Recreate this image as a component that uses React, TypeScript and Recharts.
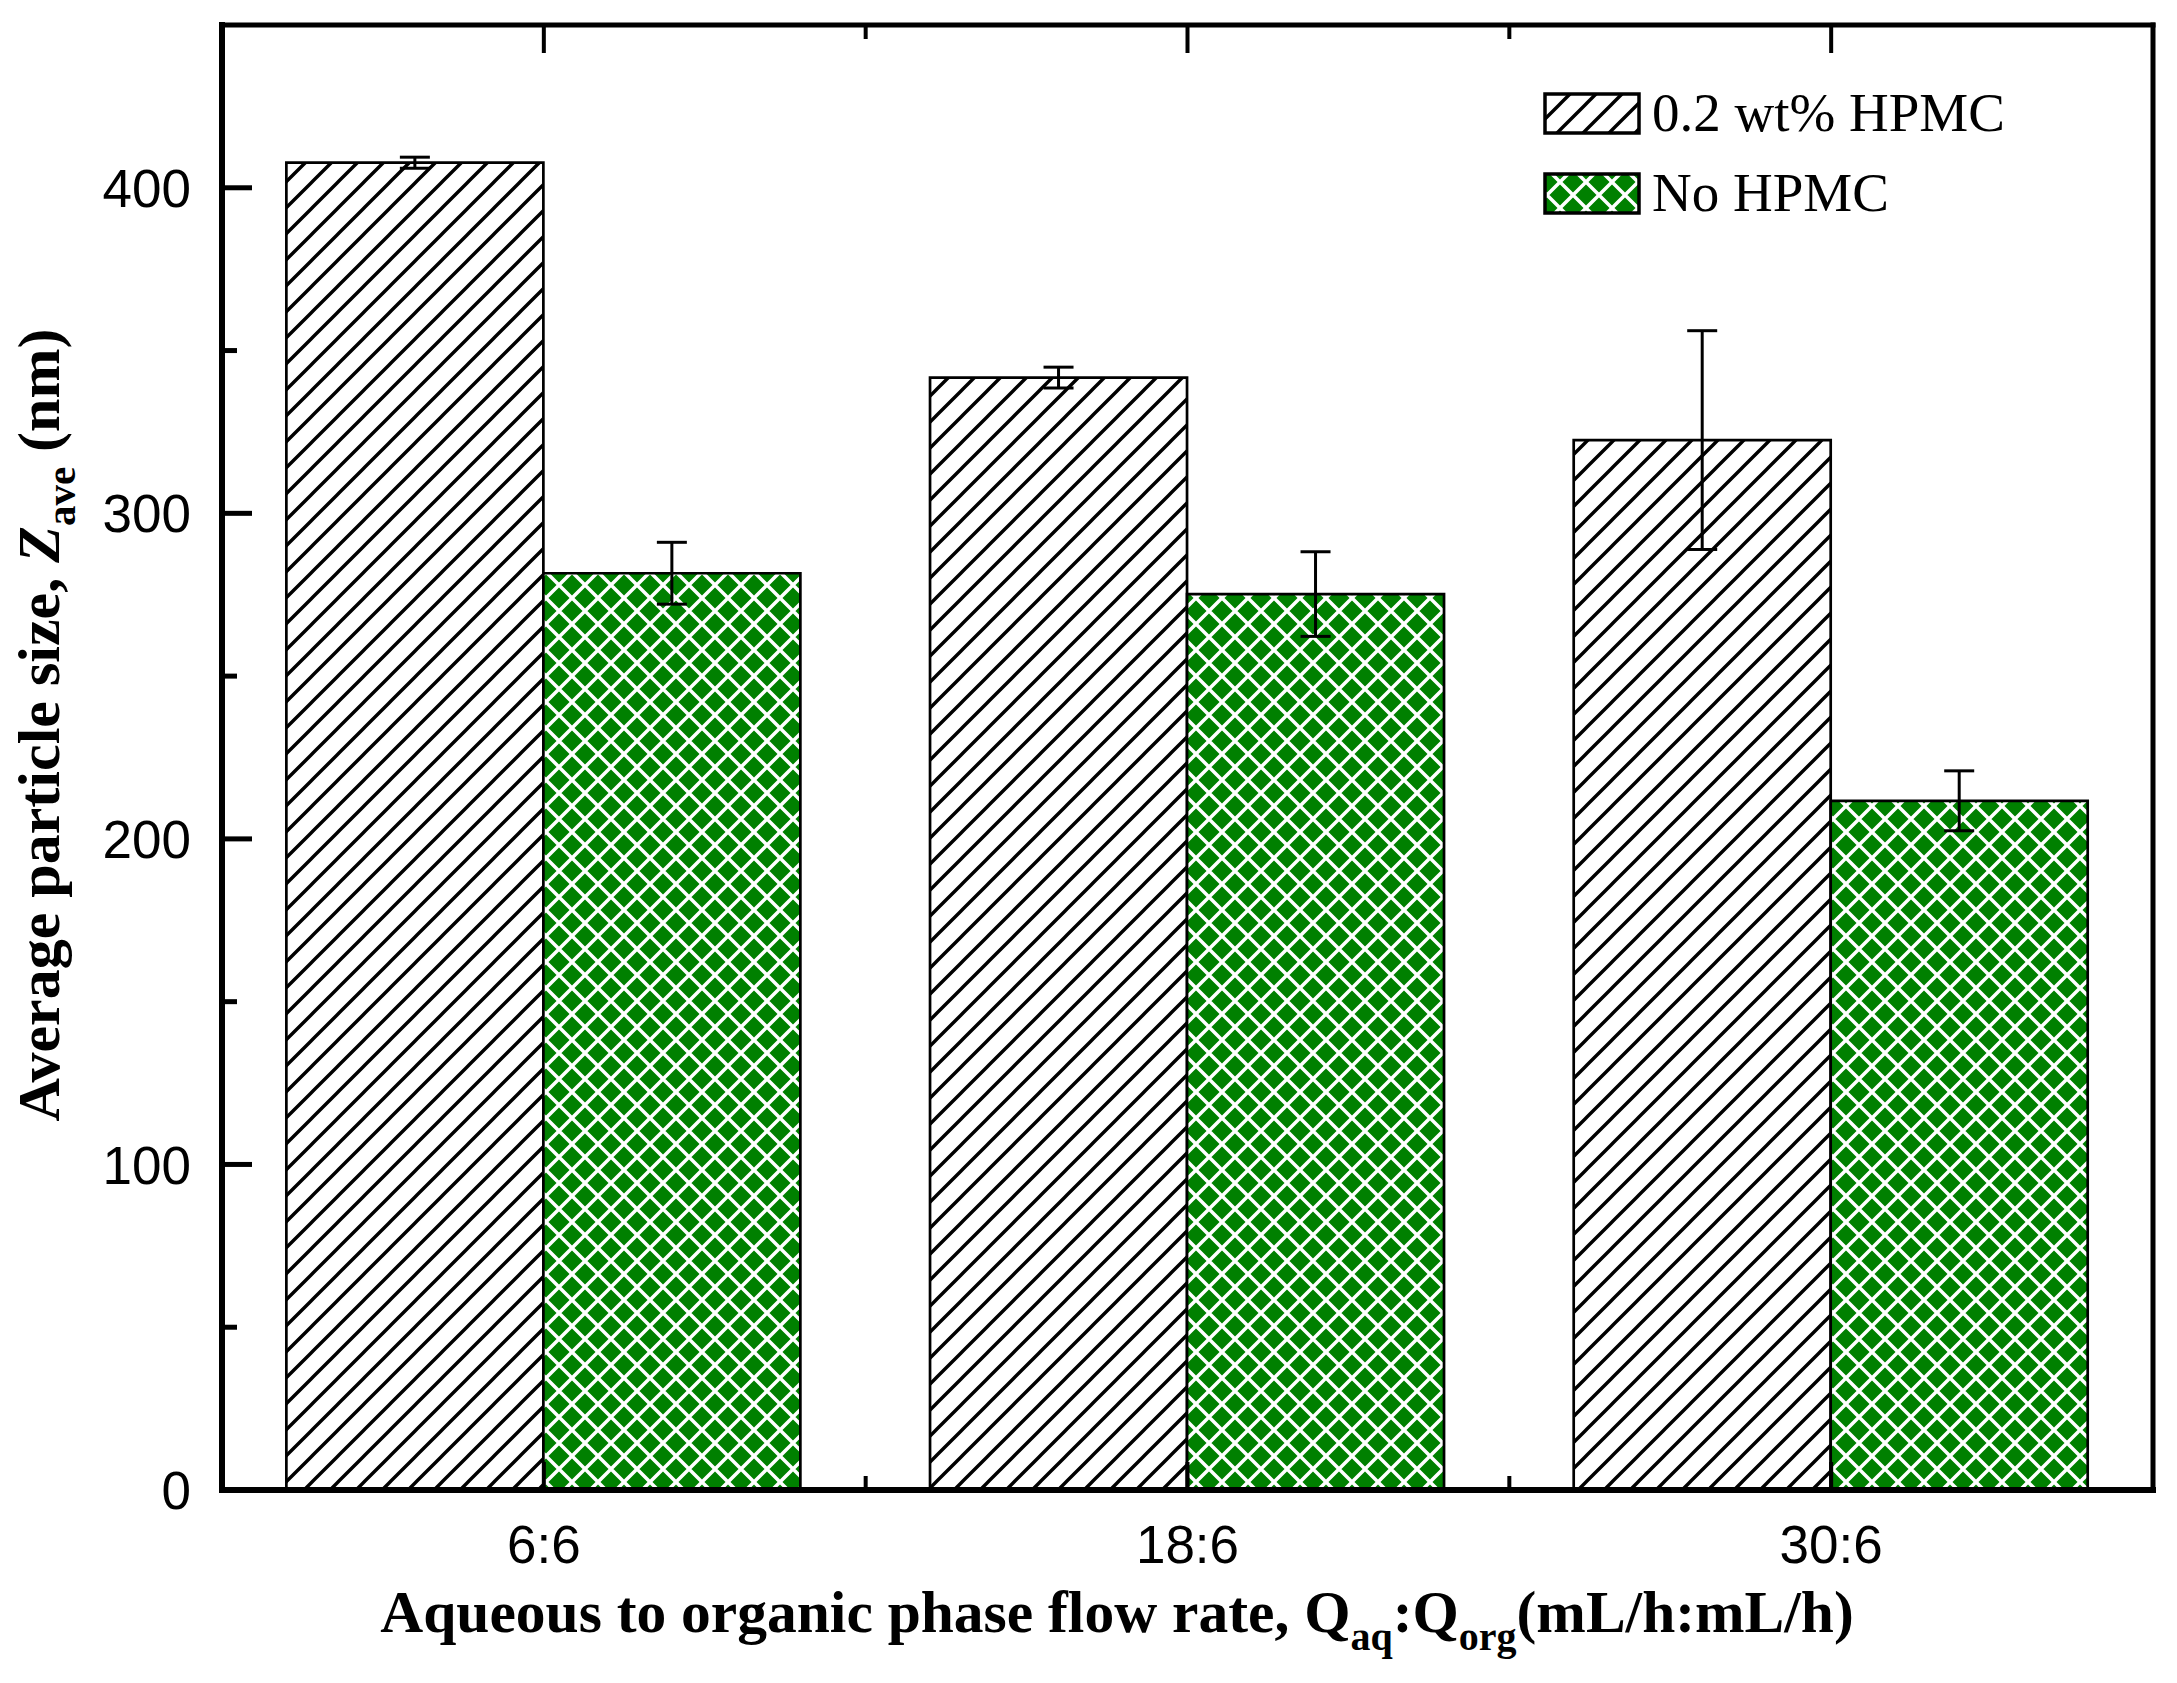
import React from "react";
import { BarChart, Bar, XAxis, YAxis, ErrorBar } from "recharts";

// 유량비별 평균 입자 크기 (nm)
const categories = ["6:6", "18:6", "30:6"];
const withHpmc = [407.7, 341.7, 322.5];
const withHpmcErr = [1.7, 3.2, 33.6];
const noHpmc = [281.6, 275.2, 211.7];
const noHpmcErr = [9.5, 13.0, 9.2];
const yTicks = [0, 50, 100, 150, 200, 250, 300, 350, 400];
const seriesNames = ["0.2 wt% HPMC", "No HPMC"];

const W = 2177;
const H = 1683;
// 축 크기만큼 여백을 빼서 플롯 영역이 222..2153 x 25..1490 이 되도록 함
const AX = { left: 60, bottom: 60, top: 10, right: 10 };
const M = { top: 25 - AX.top, right: 24 - AX.right, bottom: 193 - AX.bottom, left: 222 - AX.left };
const BAND = (W - 222 - 24) / categories.length;

const SANS = "'Liberation Sans', Arial, sans-serif";
const SERIF = "'Liberation Serif', 'Times New Roman', serif";

const data = categories.map((cat, i) => ({
  cat,
  hpmc: withHpmc[i],
  hpmcErr: withHpmcErr[i],
  none: noHpmc[i],
  noneErr: noHpmcErr[i],
}));

const LeftTick = ({ x, y, payload }: any) => {
  const major = payload.value % 100 === 0;
  return (
    <g>
      <line x1={x} x2={x + (major ? 30 : 15)} y1={y} y2={y} stroke="#000" strokeWidth={5} />
      {major && (
        <text x={x - 31} y={y} dy="0.36em" textAnchor="end" fontFamily={SANS} fontSize={53} fill="#000">
          {payload.value}
        </text>
      )}
    </g>
  );
};

const RightTick = ({ x, y, payload }: any) => {
  const major = payload.value % 100 === 0;
  return <line x1={x} x2={x - (major ? 30 : 15)} y1={y} y2={y} stroke="#000" strokeWidth={5} />;
};

const BottomTick = ({ x, y, payload, index }: any) => (
  <g>
    <line x1={x} x2={x} y1={y} y2={y - 28} stroke="#000" strokeWidth={4} />
    {index < categories.length - 1 && (
      <line x1={x + BAND / 2} x2={x + BAND / 2} y1={y} y2={y - 14} stroke="#000" strokeWidth={4} />
    )}
    <text x={x} y={y + 73} textAnchor="middle" fontFamily={SANS} fontSize={53} fill="#000">
      {payload.value}
    </text>
  </g>
);

const TopTick = ({ x, y, index }: any) => (
  <g>
    <line x1={x} x2={x} y1={y} y2={y + 28} stroke="#000" strokeWidth={4} />
    {index < categories.length - 1 && (
      <line x1={x + BAND / 2} x2={x + BAND / 2} y1={y} y2={y + 14} stroke="#000" strokeWidth={4} />
    )}
  </g>
);

export default function App() {
  return (
    <div style={{ position: "relative", width: W, height: H, background: "#fff" }}>
      <style>{"body{margin:0}"}</style>
      <BarChart
        width={W}
        height={H}
        data={data}
        margin={M}
        barCategoryGap="10%"
        barGap={0}
      >
        <XAxis
          dataKey="cat"
          height={AX.bottom}
          tickSize={0}
          tickMargin={0}
          tickLine={false}
          tick={<BottomTick />}
          interval={0}
          axisLine={{ stroke: "#000", strokeWidth: 6, strokeLinecap: "square" }}
        />
        <XAxis
          xAxisId="top"
          dataKey="cat"
          orientation="top"
          height={AX.top}
          tickSize={0}
          tickMargin={0}
          tickLine={false}
          tick={<TopTick />}
          interval={0}
          axisLine={{ stroke: "#000", strokeWidth: 5, strokeLinecap: "square" }}
        />
        <YAxis
          type="number"
          domain={[0, 450]}
          ticks={yTicks}
          width={AX.left}
          tickSize={0}
          tickMargin={0}
          tickLine={false}
          tick={<LeftTick />}
          interval={0}
          axisLine={{ stroke: "#000", strokeWidth: 6, strokeLinecap: "square" }}
        />
        <YAxis
          yAxisId="right"
          orientation="right"
          type="number"
          domain={[0, 450]}
          ticks={yTicks}
          width={AX.right}
          tickSize={0}
          tickMargin={0}
          tickLine={false}
          tick={<RightTick />}
          interval={0}
          axisLine={{ stroke: "#000", strokeWidth: 5, strokeLinecap: "square" }}
        />
        <Bar dataKey="hpmc" name={seriesNames[0]} fill="url(#hatch)" stroke="#000" strokeWidth={2.7} isAnimationActive={false}>
          <ErrorBar dataKey="hpmcErr" width={15} stroke="#000" strokeWidth={3} />
        </Bar>
        <Bar dataKey="none" name={seriesNames[1]} fill="url(#cross)" stroke="#000" strokeWidth={2.7} isAnimationActive={false}>
          <ErrorBar dataKey="noneErr" width={15} stroke="#000" strokeWidth={3} />
        </Bar>
      </BarChart>

      <svg
        width={W}
        height={H}
        style={{ position: "absolute", left: 0, top: 0, pointerEvents: "none" }}
      >
        <defs>
          <pattern id="hatch" patternUnits="userSpaceOnUse" width={26} height={26}>
            <rect width={26} height={26} fill="#fff" />
            <path d="M-6.5,6.5 L6.5,-6.5 M0,26 L26,0 M19.5,32.5 L32.5,19.5" stroke="#000" strokeWidth={3.4} />
          </pattern>
          <pattern id="cross" patternUnits="userSpaceOnUse" width={26} height={26}>
            <rect width={26} height={26} fill="#008000" />
            <path d="M0,0 L26,26 M26,0 L0,26" stroke="#fff" strokeWidth={3.5} />
          </pattern>
        </defs>

        {/* 범례 */}
        <rect x={1545} y={94} width={94} height={39} fill="url(#hatch)" stroke="#000" strokeWidth={3.5} />
        <text x={1652} y={131} fontFamily={SERIF} fontSize={55} fill="#000">
          {seriesNames[0]}
        </text>
        <rect x={1545} y={174} width={94} height={39} fill="url(#cross)" stroke="#000" strokeWidth={3.5} />
        <text x={1652} y={211} fontFamily={SERIF} fontSize={55} fill="#000">
          {seriesNames[1]}
        </text>

        {/* 축 제목 */}
        <text x={1117} y={1632} textAnchor="middle" fontFamily={SERIF} fontWeight="bold" fontSize={59.5} fill="#000">
          Aqueous to organic phase flow rate, Q
          <tspan dy={18} fontSize={40}>aq</tspan>
          <tspan dy={-18}>:Q</tspan>
          <tspan dy={18} fontSize={40}>org</tspan>
          <tspan dy={-18}>(mL/h:mL/h)</tspan>
        </text>
        <text
          transform="rotate(-90)"
          x={-725}
          y={59}
          textAnchor="middle"
          fontFamily={SERIF}
          fontWeight="bold"
          fontSize={60}
          fill="#000"
        >
          Average particle size, <tspan fontStyle="italic">Z</tspan>
          <tspan dy={16} fontSize={41}>ave</tspan>
          <tspan dy={-16}> (nm)</tspan>
        </text>
      </svg>
    </div>
  );
}
